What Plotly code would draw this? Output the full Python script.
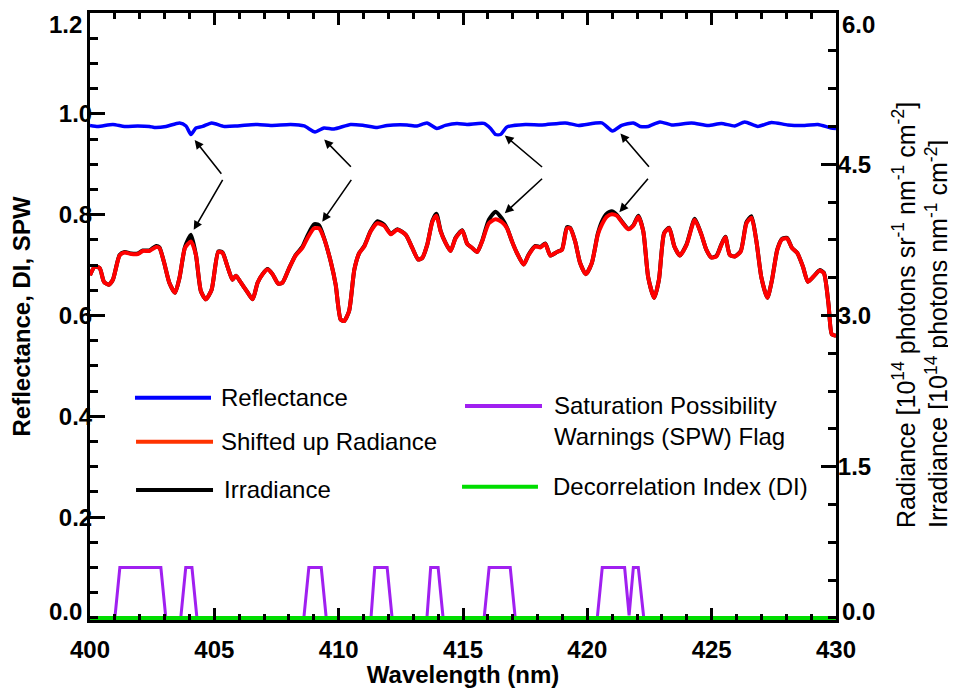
import plotly.graph_objects as go

# reflectance (left axis)
refl_wl = [400.0, 400.32, 400.92, 401.39, 401.92, 402.39, 402.59, 403.06, 403.6, 403.86,
           404.06, 404.26, 404.53, 404.89, 405.4, 405.93, 406.74, 407.27, 408.07, 408.61,
           409.05, 409.41, 409.81, 410.48, 411.01, 411.55, 411.95, 412.75, 413.15, 413.55,
           413.95, 414.29, 414.76, 415.16, 415.84, 416.11, 416.31, 416.51, 416.77, 417.51,
           418.18, 419.11, 419.65, 420.58, 421.01, 421.38, 421.85, 422.12, 422.45, 422.92,
           423.39, 424.19, 424.86, 425.39, 425.93, 426.33, 426.86, 427.4, 428.07, 428.74,
           429.27, 429.8, 430.0]
reflectance = [0.977, 0.975, 0.979, 0.975, 0.976, 0.975, 0.973, 0.975, 0.982, 0.976,
               0.959, 0.972, 0.975, 0.982, 0.975, 0.976, 0.979, 0.977, 0.979, 0.976,
               0.964, 0.972, 0.970, 0.979, 0.977, 0.973, 0.977, 0.978, 0.976, 0.982,
               0.971, 0.977, 0.981, 0.979, 0.981, 0.971, 0.959, 0.959, 0.974, 0.979,
               0.978, 0.982, 0.977, 0.982, 0.966, 0.977, 0.982, 0.975, 0.975, 0.984,
               0.978, 0.982, 0.977, 0.981, 0.976, 0.984, 0.975, 0.983, 0.978, 0.977,
               0.979, 0.972, 0.971]

# radiance / irradiance (right axis, 10^14 units)
rad_wl = [400.0, 400.19, 400.39, 400.56, 400.75, 400.92, 401.19, 401.39, 401.66, 401.92,
          402.13, 402.39, 402.66, 402.79, 402.97, 403.19, 403.42, 403.6, 403.82, 404.06,
          404.26, 404.46, 404.66, 404.89, 405.16, 405.33, 405.53, 405.73, 405.87, 406.07,
          406.31, 406.54, 406.74, 406.94, 407.14, 407.34, 407.57, 407.74, 408.01, 408.27,
          408.54, 408.74, 409.01, 409.21, 409.41, 409.68, 409.88, 410.08, 410.22, 410.42,
          410.63, 410.83, 411.03, 411.29, 411.56, 411.83, 412.1, 412.36, 412.7, 412.96,
          413.2, 413.36, 413.56, 413.77, 413.93, 414.1, 414.3, 414.5, 414.7, 414.97,
          415.17, 415.37, 415.57, 415.77, 416.04, 416.31, 416.57, 416.77, 416.97, 417.17,
          417.44, 417.64, 417.91, 418.11, 418.31, 418.51, 418.78, 418.98, 419.18, 419.31,
          419.51, 419.71, 419.94, 420.18, 420.42, 420.58, 420.78, 420.98, 421.18, 421.38,
          421.65, 421.85, 422.05, 422.25, 422.45, 422.69, 422.88, 423.09, 423.29, 423.5,
          423.72, 423.99, 424.32, 424.59, 424.79, 424.99, 425.19, 425.39, 425.55, 425.73,
          425.93, 426.17, 426.4, 426.6, 426.8, 427.0, 427.24, 427.42, 427.64, 427.83,
          428.03, 428.23, 428.44, 428.67, 428.87, 429.11, 429.34, 429.51, 429.7, 429.83,
          430.0]
radiance = [3.40, 3.485, 3.47, 3.335, 3.305, 3.355, 3.595, 3.625, 3.61, 3.61,
            3.64, 3.64, 3.68, 3.67, 3.535, 3.325, 3.225, 3.375, 3.67, 3.735,
            3.60, 3.24, 3.16, 3.255, 3.63, 3.62, 3.485, 3.355, 3.395, 3.325,
            3.24, 3.16, 3.325, 3.41, 3.455, 3.41, 3.315, 3.325, 3.47, 3.595,
            3.67, 3.765, 3.865, 3.865, 3.765, 3.535, 3.305, 2.96, 2.945, 3.045,
            3.455, 3.62, 3.685, 3.835, 3.915, 3.89, 3.805, 3.85, 3.80, 3.67,
            3.555, 3.57, 3.70, 3.93, 3.99, 3.835, 3.72, 3.64, 3.765, 3.84,
            3.71, 3.67, 3.63, 3.735, 3.915, 3.955, 3.925, 3.865, 3.735, 3.62,
            3.505, 3.60, 3.685, 3.675, 3.71, 3.595, 3.63, 3.65, 3.865, 3.865,
            3.735, 3.52, 3.41, 3.52, 3.80, 3.90, 3.98, 4.005, 3.99, 3.93,
            3.855, 3.89, 3.98, 3.835, 3.375, 3.175, 3.355, 3.815, 3.865, 3.685,
            3.595, 3.70, 3.95, 3.80, 3.65, 3.575, 3.585, 3.70, 3.775, 3.60,
            3.585, 3.635, 3.915, 3.97, 3.735, 3.375, 3.175, 3.345, 3.65, 3.755,
            3.765, 3.67, 3.62, 3.485, 3.335, 3.39, 3.445, 3.42, 3.11, 2.815,
            2.80]
irradiance = [3.40, 3.485, 3.47, 3.335, 3.305, 3.355, 3.60, 3.63, 3.615, 3.615,
              3.645, 3.645, 3.69, 3.675, 3.535, 3.325, 3.225, 3.375, 3.68, 3.80,
              3.60, 3.24, 3.16, 3.255, 3.635, 3.625, 3.485, 3.355, 3.395, 3.325,
              3.24, 3.16, 3.325, 3.41, 3.46, 3.41, 3.315, 3.325, 3.47, 3.60,
              3.68, 3.79, 3.905, 3.895, 3.77, 3.535, 3.305, 2.96, 2.945, 3.045,
              3.455, 3.62, 3.69, 3.84, 3.935, 3.90, 3.81, 3.855, 3.80, 3.67,
              3.555, 3.57, 3.70, 3.94, 4.01, 3.84, 3.72, 3.64, 3.77, 3.845,
              3.71, 3.67, 3.63, 3.74, 3.95, 4.03, 3.96, 3.87, 3.735, 3.62,
              3.505, 3.605, 3.69, 3.68, 3.715, 3.595, 3.63, 3.655, 3.875, 3.87,
              3.735, 3.52, 3.41, 3.52, 3.81, 3.93, 4.01, 4.035, 4.00, 3.935,
              3.86, 3.895, 3.99, 3.835, 3.375, 3.175, 3.355, 3.82, 3.87, 3.685,
              3.595, 3.705, 3.96, 3.80, 3.65, 3.575, 3.59, 3.705, 3.78, 3.60,
              3.585, 3.64, 3.925, 3.985, 3.735, 3.375, 3.175, 3.345, 3.655, 3.76,
              3.77, 3.67, 3.62, 3.485, 3.335, 3.39, 3.45, 3.425, 3.11, 2.815,
              2.80]

# saturation possibility warning flag and decorrelation index
spw_wl = [400.0, 401.0, 401.2, 402.85, 403.05, 403.65, 403.85, 404.1, 404.3,
          408.6, 408.8, 409.3, 409.5, 411.3, 411.45, 411.95, 412.15,
          413.55, 413.7, 414.0, 414.2, 415.85, 416.05, 416.9, 417.1,
          420.4, 420.6, 421.5, 421.68, 421.85, 422.05, 422.27, 427.0]
spw = [0, 0, 0.1, 0.1, 0, 0, 0.1, 0.1, 0,
       0, 0.1, 0.1, 0, 0, 0.1, 0.1, 0,
       0, 0.1, 0.1, 0, 0, 0.1, 0.1, 0,
       0, 0.1, 0.1, 0.005, 0.1, 0.1, 0, 0]
di_wl = [400.0, 430.0]
di = [0.0, 0.0]

left_ticks = [0.0, 0.2, 0.4, 0.6, 0.8, 1.0, 1.2]
right_ticks = [0.0, 1.5, 3.0, 4.5, 6.0]

FONT = "Liberation Sans"
BLUE = "#0000ff"
RED = "#ff0000"
PURPLE = "#a020f0"
GREEN = "#00dd00"

fig = go.Figure()
fig.add_trace(go.Scatter(x=spw_wl, y=spw, mode="lines", line=dict(color=PURPLE, width=3)))
fig.add_trace(go.Scatter(x=di_wl, y=di, mode="lines", line=dict(color=GREEN, width=4)))
fig.add_trace(go.Scatter(x=refl_wl, y=reflectance, mode="lines",
                         line=dict(color=BLUE, width=3.5, shape="spline", smoothing=0.6)))
fig.add_trace(go.Scatter(x=rad_wl, y=irradiance, mode="lines", yaxis="y2",
                         line=dict(color="black", width=4, shape="spline", smoothing=0.6)))
fig.add_trace(go.Scatter(x=rad_wl, y=radiance, mode="lines", yaxis="y2",
                         line=dict(color=RED, width=4, shape="spline", smoothing=0.6)))

tickfont = dict(family=FONT, size=24, color="black", weight="bold")
axis_common = dict(showgrid=False, zeroline=False, showline=True, linecolor="black",
                   linewidth=3, ticks="inside", tickcolor="black", tickwidth=3,
                   tickfont=tickfont, automargin=False)

# the page puts the figure 8 px in from the top-left corner
fig.update_layout(
    width=948, height=680,
    margin=dict(l=82, r=120, t=5, b=68),
    paper_bgcolor="white", plot_bgcolor="white",
    showlegend=False,
    xaxis=dict(range=[400, 430], dtick=5, ticklen=12, mirror="ticks", ticklabelstandoff=6,
               minor=dict(dtick=1, ticklen=6, tickwidth=2.5, ticks="inside", tickcolor="black"),
               title=dict(text="Wavelength (nm)", standoff=0,
                          font=dict(family=FONT, size=24, color="black", weight="bold")),
               **axis_common),
    yaxis=dict(range=[-0.004, 1.2], tickmode="array", tickvals=left_ticks[1:-1],
               tickformat=".1f", ticklen=15, ticklabelstandoff=-10,
               minor=dict(tickmode="linear", tick0=0, dtick=0.05, ticklen=8, tickwidth=2.5,
                          ticks="inside", tickcolor="black"),
               title=dict(text="Reflectance, DI, SPW", standoff=22,
                          font=dict(family=FONT, size=24, color="black", weight="bold")),
               **axis_common),
    yaxis2=dict(range=[-0.02, 6.0], tickmode="array", tickvals=right_ticks[1:-1],
                tickformat=".1f", ticklen=15, ticklabelstandoff=-6,
                overlaying="y", side="right",
                minor=dict(tickmode="linear", tick0=0, dtick=0.375, ticklen=8, tickwidth=2.5,
                           ticks="inside", tickcolor="black"),
                **axis_common),
)

# end labels sit inside the axis span, as in the original
for val, anchor, dy in [(left_ticks[0], "bottom", -9), (left_ticks[-1], "top", 4)]:
    fig.add_annotation(xref="paper", yref="y", x=0, y=val, xanchor="right", yanchor=anchor,
                       xshift=-6, yshift=dy, showarrow=False, text=f"{val:.1f}", font=tickfont)
for val, anchor, dy in [(right_ticks[0], "bottom", -9), (right_ticks[-1], "top", 4)]:
    fig.add_annotation(xref="paper", yref="y2", x=1, y=val, xanchor="left", yanchor=anchor,
                       xshift=4, yshift=dy, showarrow=False, text=f"{val:.1f}", font=tickfont)

# right axis title, two left-aligned lines
fig.add_annotation(
    xref="paper", yref="paper", x=1.1126, y=0.5025, textangle=-90, showarrow=False,
    align="left", xanchor="center", yanchor="middle",
    text="Radiance [10<sup>14</sup> photons sr<sup>-1</sup> nm<sup>-1</sup> cm<sup>-2</sup>]<br>"
         "Irradiance [10<sup>14</sup> photons nm<sup>-1</sup> cm<sup>-2</sup>]",
    font=dict(family=FONT, size=25, color="black"),
)

# hand-placed legend
legend_items = [
    ("Reflectance", BLUE, 0.0603, 0.1622, 0.3662, 0.1729),
    ("Shifted up Radiance", "#ff3300", 0.0617, 0.1649, 0.2937, 0.1729),
    ("Irradiance", "black", 0.0617, 0.1649, 0.2142, 0.1770),
    ("Saturation Possibility<br>Warnings (SPW) Flag", PURPLE, 0.5027, 0.6059, 0.3526, 0.6193),
    ("Decorrelation Index (DI)", GREEN, 0.4987, 0.6005, 0.2196, 0.6180),
]
for label, color, x0, x1, yy, xt in legend_items:
    fig.add_shape(type="line", xref="paper", yref="paper", x0=x0, x1=x1, y0=yy, y1=yy,
                  line=dict(color=color, width=4))
    if "<br>" in label:
        fig.add_annotation(xref="paper", yref="paper", x=xt, y=yy + 0.0257, xanchor="left",
                           yanchor="top", align="left", showarrow=False, text=label,
                           font=dict(family=FONT, size=24, color="black"))
    else:
        fig.add_annotation(xref="paper", yref="paper", x=xt, y=yy, xanchor="left",
                           yanchor="middle", showarrow=False, text=label,
                           font=dict(family=FONT, size=24, color="black"))

# arrows pointing to the features: (head x, head y, tail x, tail y)
arrows = [
    (404.21, 0.948, 405.33, 0.878), (404.17, 0.770, 405.37, 0.872),
    (409.42, 0.949, 410.55, 0.892), (409.34, 0.786, 410.55, 0.872),
    (416.68, 0.957, 418.24, 0.892), (416.68, 0.803, 418.24, 0.874),
    (421.33, 0.961, 422.53, 0.892), (421.29, 0.805, 422.49, 0.874),
]
for hx, hy, tx, ty in arrows:
    fig.add_annotation(x=hx, y=hy, ax=tx, ay=ty, xref="x", yref="y", axref="x", ayref="y",
                       text="", showarrow=True, arrowhead=2, arrowsize=1.1, arrowwidth=1.6,
                       arrowcolor="black")

fig.write_html("out.html")
